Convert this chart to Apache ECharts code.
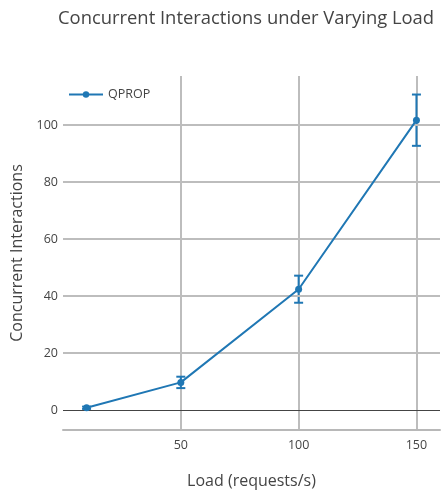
<!DOCTYPE html>
<html><head><meta charset="utf-8">
<script src="https://cdn.jsdelivr.net/npm/echarts@6/dist/echarts.min.js"></script>
<style>html,body{margin:0;padding:0;background:#fff}#c{width:443px;height:492px}</style>
</head><body><div id="c"></div>
<script>
var loads = [10, 50, 100, 150];
var interactions = [0.8, 9.7, 42.4, 101.7];
var errors = [0.4, 2.0, 4.75, 9.0];
var yTicks = [0, 20, 40, 60, 80, 100];
var xTicks = [50, 100, 150];

var FONT = '"Open Sans", sans-serif';
var BLUE = '#1f77b4';
var chart = echarts.init(document.getElementById('c'));
var errData = loads.map(function(x, i){ return [x, interactions[i] - errors[i], interactions[i] + errors[i]]; });

chart.setOption({
  animation: false,
  textStyle: {fontFamily: FONT},
  title: {text: 'Concurrent Interactions under Varying Load', left: 53, top: 5,
    textStyle: {fontFamily: FONT, fontSize: 18.4, fontWeight: 'normal', color: '#444'}},
  legend: {left: 63, top: 83, itemWidth: 34, itemHeight: 8, itemGap: 5,
    textStyle: {fontFamily: FONT, fontSize: 12.5, color: '#444'},
    data: ['QPROP']},
  grid: {left: 63, right: 3, top: 76, bottom: 62, outerBoundsMode: 'none'},
  xAxis: {type: 'value', min: 0, max: 160, interval: 50,
    name: 'Load (requests/s)', nameLocation: 'middle', nameGap: 43,
    nameTextStyle: {fontFamily: FONT, fontSize: 16, color: '#444'},
    axisLine: {show: true, onZero: false, lineStyle: {color: '#b8b8b8', width: 2}},
    axisTick: {show: false},
    axisLabel: {showMinLabel: false, showMaxLabel: false, fontFamily: FONT, fontSize: 12.5, color: '#444', margin: 9},
    splitLine: {show: true, showMinLine: false, showMaxLine: false, lineStyle: {color: '#bdbdbd', width: 2}}
  },
  yAxis: {type: 'value', min: -7, max: 117.2,
    name: 'Concurrent Interactions', nameLocation: 'middle', nameGap: 38,
    nameTextStyle: {fontFamily: FONT, fontSize: 16, color: '#444'},
    axisLine: {show: false},
    axisTick: {show: false, customValues: yTicks},
    axisLabel: {customValues: yTicks, fontFamily: FONT, fontSize: 12.5, color: '#444', margin: 5},
    splitLine: {show: false}
  },
  series: [
    {name: 'grid', type: 'line', data: [], silent: true,
      markLine: {silent: true, symbol: 'none', label: {show: false},
        data: yTicks.map(function(v){ return {yAxis: v, lineStyle: {color: v === 0 ? '#444' : '#bdbdbd', width: v === 0 ? 1 : 2, type: 'solid'}}; })}},
    {name: 'QPROP', type: 'line', data: loads.map(function(x, i){ return [x, interactions[i]]; }),
      symbol: 'circle', symbolSize: 7, z: 5,
      lineStyle: {color: BLUE, width: 2}, itemStyle: {color: BLUE}},
    {name: 'err', type: 'custom', data: errData, z: 4,
      renderItem: function(params, api){
        var x = api.value(0);
        var lo = api.coord([x, api.value(1)]);
        var hi = api.coord([x, api.value(2)]);
        var w = 4.5;
        var st = {stroke: BLUE, lineWidth: 2};
        return {type: 'group', children: [
          {type: 'line', shape: {x1: lo[0], y1: lo[1], x2: hi[0], y2: hi[1]}, style: st},
          {type: 'line', shape: {x1: lo[0]-w, y1: lo[1], x2: lo[0]+w, y2: lo[1]}, style: st},
          {type: 'line', shape: {x1: hi[0]-w, y1: hi[1], x2: hi[0]+w, y2: hi[1]}, style: st}
        ]};
      }}
  ]
});
</script></body></html>
